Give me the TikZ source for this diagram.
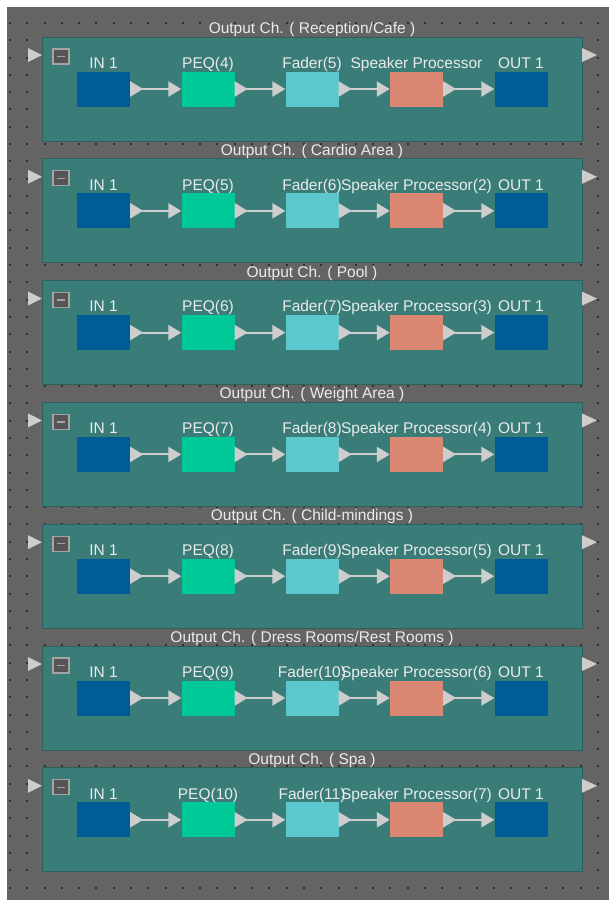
\documentclass[tikz,border=0pt]{standalone}
\usepackage{fontspec}
\setmainfont{Liberation Sans}
\usetikzlibrary{arrows.meta}

\definecolor{canvasgray}{RGB}{100,100,100}
\definecolor{dotgray}{RGB}{48,48,48}
\definecolor{panelteal}{RGB}{58,125,120}
\definecolor{paneledge}{RGB}{45,95,92}
\definecolor{iobox}{RGB}{0,92,150}
\definecolor{peqbox}{RGB}{0,200,150}
\definecolor{faderbox}{RGB}{92,200,205}
\definecolor{spkbox}{RGB}{218,136,115}
\definecolor{wirec}{RGB}{205,205,205}
\definecolor{txtc}{RGB}{235,235,235}

\tikzset{
  panel/.style={fill=panelteal, draw=paneledge, line width=1pt, minimum width=540pt, minimum height=104pt, inner sep=0pt},
  blk/.style={minimum width=53pt, minimum height=35pt, inner sep=0pt},
  lab/.style={anchor=base, text=txtc, font=\fontsize{15.5}{18}\selectfont, inner sep=0pt},
  ttl/.style={lab},
  conn/.style={draw=wirec, line width=2pt, {Triangle[reversed,length=13pt,width=15pt]}-{Triangle[length=13pt,width=15pt]}},
  port/.style={fill=wirec},
  btn/.style={draw=wirec!80!black, fill=canvasgray!85!black, line width=1.2pt, minimum width=16pt, minimum height=15pt, inner sep=0pt},
}

\begin{document}
\begin{tikzpicture}[x=1pt,y=-1pt]
  \useasboundingbox (0,0) rectangle (609,900);
  % Canvas with dot grid
  \fill[canvasgray] (7,7) rectangle (609,900);
  \foreach \i in {0,...,34} {
    \foreach \j in {0,...,50} {
      \fill[dotgray] (10+17.29*\i-1,23+17.29*\j-1) rectangle ++(2,2);
    }
  }
  % Output channels
  \foreach \i/\name/\peq/\fad/\spk in {
      1/Reception\slash Cafe/PEQ(4)/Fader(5)/Speaker Processor,
      2/Cardio Area/PEQ(5)/Fader(6)/Speaker Processor(2),
      3/Pool/PEQ(6)/Fader(7)/Speaker Processor(3),
      4/Weight Area/PEQ(7)/Fader(8)/Speaker Processor(4),
      5/Child-mindings/PEQ(8)/Fader(9)/Speaker Processor(5),
      6/Dress Rooms\slash Rest Rooms/PEQ(9)/Fader(10)/Speaker Processor(6),
      7/Spa/PEQ(10)/Fader(11)/Speaker Processor(7)} {
    \pgfmathsetmacro{\T}{37+121.8*(\i-1)}
    \node[panel] (panel\i) at (312,\T+52) {};
    \node[ttl] (ttl\i) at ([yshift=3pt]panel\i.north) {Output Ch. ( \name\ )};
    % ports and collapse button
    \fill[port] (28,\T+11) -- (42,\T+18) -- (28,\T+25) -- cycle;
    \fill[port] (582,\T+11) -- (597,\T+18) -- (582,\T+25) -- cycle;
    \node[btn] (btn\i) at (61,\T+19.5) {};
    \draw[wirec!80!black, line width=1.5pt] ([xshift=-4pt]btn\i.center) -- ([xshift=4pt]btn\i.center);
    % blocks
    \node[blk, fill=iobox] (in\i) at (103.5,\T+52) {};
    \node[blk, fill=peqbox] (peq\i) at (208,\T+52) {};
    \node[blk, fill=faderbox] (fad\i) at (312,\T+52) {};
    \node[blk, fill=spkbox] (spk\i) at (416.5,\T+52) {};
    \node[blk, fill=iobox] (out\i) at (521,\T+52) {};
    \node[lab] (lin\i) at ([yshift=3pt]in\i.north) {IN 1};
    \node[lab] (lpeq\i) at ([yshift=3pt]peq\i.north) {\peq};
    \node[lab] (lfad\i) at ([yshift=3pt]fad\i.north) {\fad};
    \node[lab] (lspk\i) at ([yshift=3pt]spk\i.north) {\spk};
    \node[lab] (lout\i) at ([yshift=3pt]out\i.north) {OUT 1};
    % wires
    \draw[conn] (in\i) -- (peq\i);
    \draw[conn] (peq\i) -- (fad\i);
    \draw[conn] (fad\i) -- (spk\i);
    \draw[conn] (spk\i) -- (out\i);
  }
\end{tikzpicture}
\end{document}
